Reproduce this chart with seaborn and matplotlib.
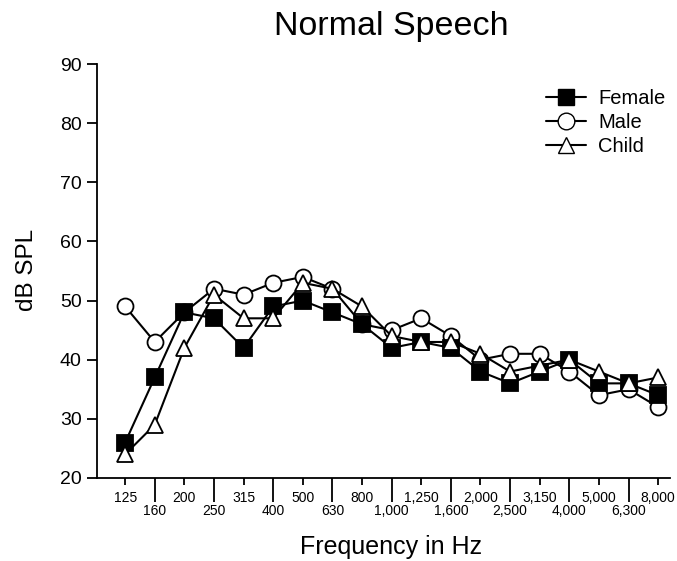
import pandas as pd
import matplotlib
matplotlib.use("Agg")
import matplotlib.pyplot as plt
import seaborn as sns
from matplotlib.lines import Line2D

# 1/3-octave band centre frequencies (Hz)
freq_labels = ["125", "160", "200", "250", "315", "400", "500", "630", "800",
               "1,000", "1,250", "1,600", "2,000", "2,500", "3,150", "4,000",
               "5,000", "6,300", "8,000"]

# band levels in dB SPL
female = [26, 37, 48, 47, 42, 49, 50, 48, 46, 42, 43, 42, 38, 36, 38, 40, 36, 36, 34]
male = [49, 43, 48, 52, 51, 53, 54, 52, 46, 45, 47, 44, 40, 41, 41, 38, 34, 35, 32]
child = [24, 29, 42, 51, 47, 47, 53, 52, 49, 44, 43, 43, 41, 38, 39, 40, 38, 36, 37]

pos = list(range(len(freq_labels)))
df = pd.DataFrame({"pos": pos, "Female": female, "Male": male, "Child": child})

sns.set_style("ticks")
plt.rcParams["font.family"] = ["Liberation Sans", "DejaVu Sans"]
for key in ["text.color", "axes.labelcolor", "xtick.color", "ytick.color",
            "axes.edgecolor"]:
    plt.rcParams[key] = "black"

fig = plt.figure(figsize=(6.77, 5.61), dpi=100)
ax = fig.add_axes([97 / 677, 1 - 478 / 561, 573 / 677, 414 / 561])

styles = {
    "Male": dict(marker="o", markerfacecolor="white"),
    "Female": dict(marker="s", markerfacecolor="black"),
    "Child": dict(marker="^", markerfacecolor="white"),
}
for name in ["Male", "Female", "Child"]:
    sns.lineplot(data=df, x="pos", y=name, ax=ax, color="black", linewidth=1.5,
                 markersize=11.5, markeredgecolor="black", markeredgewidth=1.3,
                 **styles[name])

ax.set_xlim(-0.95, 18.4)
ax.set_ylim(20, 90)
ax.set_yticks(range(20, 91, 10))
ax.tick_params(axis="y", labelsize=14, length=7, width=1.3, direction="out", pad=4)

# alternate labels: upper row on short ticks, lower row on long ticks
ax.set_xticks(pos[::2])
ax.set_xticklabels(freq_labels[::2])
ax.set_xticks(pos[1::2], minor=True)
ax.set_xticklabels(freq_labels[1::2], minor=True)
ax.tick_params(axis="x", which="major", length=5, width=1.3, pad=4, labelsize=10)
ax.tick_params(axis="x", which="minor", length=17, width=1.3, pad=1.5, labelsize=10)

ax.set_xlabel("")
ax.set_ylabel("")
for s in ["top", "right"]:
    ax.spines[s].set_visible(False)
ax.spines["left"].set_linewidth(1.3)
ax.spines["bottom"].set_linewidth(1.3)

fig.text(391 / 677, 1 - 27 / 561, "Normal Speech", fontsize=24.5,
         ha="center", va="center")
fig.text(391 / 677, 1 - 547 / 561, "Frequency in Hz", fontsize=18,
         ha="center", va="center")
fig.text(27 / 677, 1 - 270 / 561, "dB SPL", fontsize=17.5, rotation=90,
         ha="center", va="center")

handles = [
    Line2D([], [], color="black", marker="s", markerfacecolor="black",
           markersize=12, linewidth=1.5),
    Line2D([], [], color="black", marker="o", markerfacecolor="white",
           markersize=12, linewidth=1.5),
    Line2D([], [], color="black", marker="^", markerfacecolor="white",
           markersize=12, linewidth=1.5),
]
ax.legend(handles, ["Female", "Male", "Child"], frameon=False, fontsize=14.5,
          loc="upper right", bbox_to_anchor=(1.01, 0.965), handlelength=2.0,
          labelspacing=0.25, handletextpad=0.6, borderpad=0.0)

fig.savefig("out.png", dpi=100)
